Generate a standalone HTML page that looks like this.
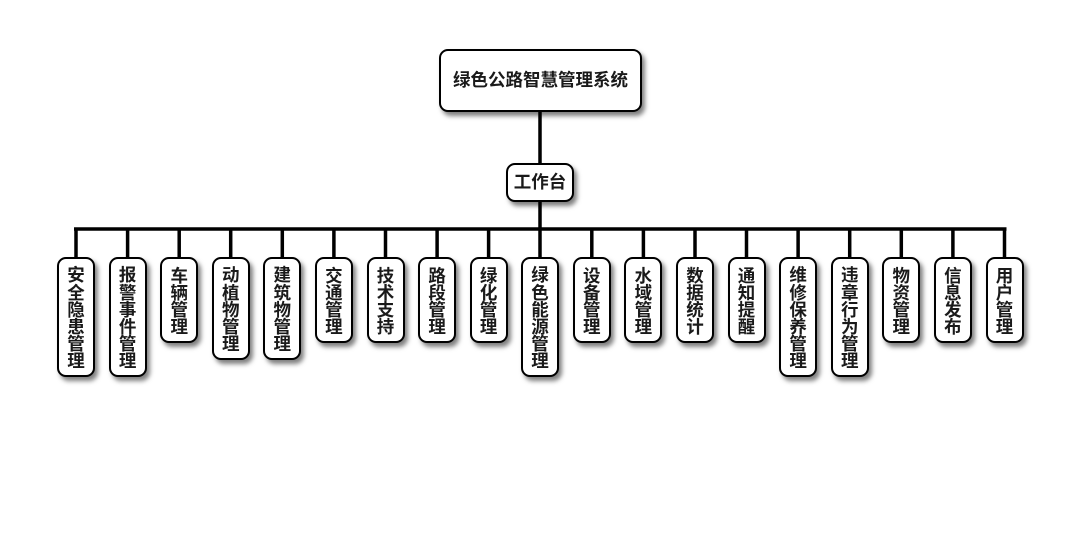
<!DOCTYPE html>
<html>
<head>
<meta charset="utf-8">
<style>
  html, body { margin: 0; padding: 0; background: #fff; }
  body { width: 1080px; height: 560px; position: relative; overflow: hidden;
         font-family: "Liberation Sans", "Noto Sans CJK SC", sans-serif; }
  svg.lines { position: absolute; left: 0; top: 0; }
  .box { position: absolute; box-sizing: border-box; background: #fff;
         border: 2px solid #000; border-radius: 9px;
         box-shadow: 3px 4px 5px rgba(0,0,0,0.5);
         display: flex; align-items: center; justify-content: center;
         font-weight: bold; color: #1a1a1a; font-size: 17.5px; line-height: 17.2px; }
  .v { width: 18px; word-break: break-all; text-align: center; padding-top: 4px; }
</style>
</head>
<body>
<svg class="lines" width="1080" height="560">
  <g stroke="#000" stroke-width="3.5" fill="none">
    <line x1="540" y1="110" x2="540" y2="258"/>
    <line x1="74" y1="229" x2="1006.5" y2="229"/>
    <line x1="76" y1="229" x2="76" y2="258"/>
    <line x1="127.6" y1="229" x2="127.6" y2="258"/>
    <line x1="179.2" y1="229" x2="179.2" y2="258"/>
    <line x1="230.7" y1="229" x2="230.7" y2="258"/>
    <line x1="282.3" y1="229" x2="282.3" y2="258"/>
    <line x1="333.9" y1="229" x2="333.9" y2="258"/>
    <line x1="385.5" y1="229" x2="385.5" y2="258"/>
    <line x1="437.1" y1="229" x2="437.1" y2="258"/>
    <line x1="488.6" y1="229" x2="488.6" y2="258"/>
    <line x1="591.8" y1="229" x2="591.8" y2="258"/>
    <line x1="643.4" y1="229" x2="643.4" y2="258"/>
    <line x1="695" y1="229" x2="695" y2="258"/>
    <line x1="746.5" y1="229" x2="746.5" y2="258"/>
    <line x1="798.1" y1="229" x2="798.1" y2="258"/>
    <line x1="849.7" y1="229" x2="849.7" y2="258"/>
    <line x1="901.3" y1="229" x2="901.3" y2="258"/>
    <line x1="952.9" y1="229" x2="952.9" y2="258"/>
    <line x1="1004.5" y1="229" x2="1004.5" y2="258"/>
  </g>
</svg>

<div class="box" style="left:439px;top:49px;width:203px;height:63px;"><span style="padding-top:1px">绿色公路智慧管理系统</span></div>
<div class="box" style="left:506px;top:163px;width:68px;height:39px;"><span style="padding-top:1px">工作台</span></div>

<div class="box" style="left:57px;top:257px;width:38px;height:120px;"><div class="v">安全隐患管理</div></div>
<div class="box" style="left:108.6px;top:257px;width:38px;height:120px;"><div class="v">报警事件管理</div></div>
<div class="box" style="left:160.2px;top:257px;width:38px;height:86px;"><div class="v">车辆管理</div></div>
<div class="box" style="left:211.7px;top:257px;width:38px;height:103px;"><div class="v">动植物管理</div></div>
<div class="box" style="left:263.3px;top:257px;width:38px;height:103px;"><div class="v">建筑物管理</div></div>
<div class="box" style="left:314.9px;top:257px;width:38px;height:86px;"><div class="v">交通管理</div></div>
<div class="box" style="left:366.5px;top:257px;width:38px;height:86px;"><div class="v">技术支持</div></div>
<div class="box" style="left:418.1px;top:257px;width:38px;height:86px;"><div class="v">路段管理</div></div>
<div class="box" style="left:469.6px;top:257px;width:38px;height:86px;"><div class="v">绿化管理</div></div>
<div class="box" style="left:521px;top:257px;width:38px;height:120px;"><div class="v">绿色能源管理</div></div>
<div class="box" style="left:572.8px;top:257px;width:38px;height:86px;"><div class="v">设备管理</div></div>
<div class="box" style="left:624.4px;top:257px;width:38px;height:86px;"><div class="v">水域管理</div></div>
<div class="box" style="left:676px;top:257px;width:38px;height:86px;"><div class="v">数据统计</div></div>
<div class="box" style="left:727.5px;top:257px;width:38px;height:86px;"><div class="v">通知提醒</div></div>
<div class="box" style="left:779.1px;top:257px;width:38px;height:120px;"><div class="v">维修保养管理</div></div>
<div class="box" style="left:830.7px;top:257px;width:38px;height:120px;"><div class="v">违章行为管理</div></div>
<div class="box" style="left:882.3px;top:257px;width:38px;height:86px;"><div class="v">物资管理</div></div>
<div class="box" style="left:933.9px;top:257px;width:38px;height:86px;"><div class="v">信息发布</div></div>
<div class="box" style="left:985.5px;top:257px;width:38px;height:86px;"><div class="v">用户管理</div></div>
</body>
</html>
